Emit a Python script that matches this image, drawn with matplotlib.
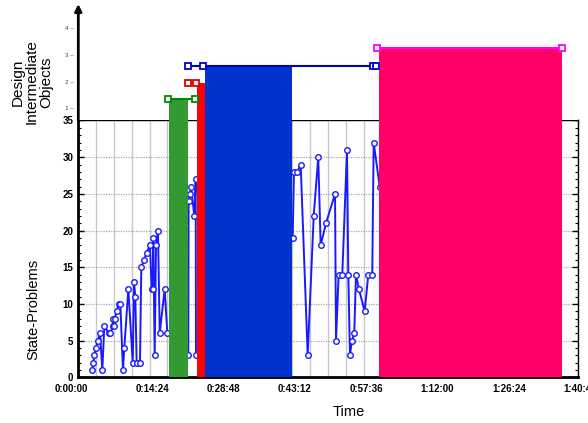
import numpy as np
import matplotlib
matplotlib.use("Agg")
import matplotlib.pyplot as plt
import matplotlib.transforms as mtransforms
from matplotlib.ticker import MultipleLocator

plt.rcParams['font.family'] = ['Liberation Sans', 'DejaVu Sans']

# ── 1. Data ───────────────────────────────────────────────────────────────────
# State-problem count over session time (seconds)
sp_time = [170, 182, 194, 214, 235, 263, 291, 315, 368, 388, 417, 424, 436, 444,
           465, 489, 509, 541, 557, 606, 659, 675, 690, 707, 747, 763, 796, 828,
           868, 889, 901, 908, 925, 941, 965, 986, 1046, 1078,
           1332, 1336, 1353, 1365, 1405, 1422, 1425,
           2596, 2612, 2652, 2693, 2778, 2851, 2906, 2935, 3000, 3109, 3121,
           3153, 3197, 3254, 3270, 3290, 3314, 3342, 3363, 3399, 3468, 3512,
           3560, 3577, 3650]
sp_count = [1, 2, 3, 4, 5, 6, 1, 7, 6, 6, 7, 8, 7, 8,
            9, 10, 10, 1, 4, 12, 2, 13, 11, 2, 2, 15, 16, 17,
            18, 12, 12, 19, 3, 18, 20, 6, 12, 6,
            3, 24, 25, 26, 22, 27, 3,
            19, 28, 28, 29, 3, 22, 30, 18, 21, 25, 5,
            14, 14, 31, 14, 3, 5, 6, 14, 12, 9, 14,
            14, 32, 26]

# Design intermediate objects: activity spans (seconds) and their level
bar_start = [1098, 1441, 1534, 3642]
bar_end = [1325, 1534, 2588, 5854]
bar_level = [1.35, 1.95, 2.6, 3.25]
bar_colors = ['#339933', '#ff0000', '#0033cc', '#ff0066']

# marker lines drawn on top of the spans in the upper panel
dio_times = [[1090, 1413], [1325, 1422], [1325, 1507, 3565, 3600], [3621, 5854]]
dio_colors = ['#008a00', '#dd0000', '#0000cc', '#ff00ff']

time_labels = ['0:00:00', '0:14:24', '0:28:48', '0:43:12', '0:57:36',
               '1:12:00', '1:26:24', '1:40:48']

# ── 2. Figure layout ──────────────────────────────────────────────────────────
W, H = 588, 423
fig = plt.figure(figsize=(W / 100, H / 100), dpi=100)
x0, x1 = 78.3, 577.7
y_mid, y_bot, y_top = 120.5, 377.3, 4.0
ax = fig.add_axes([x0 / W, 1 - y_bot / H, (x1 - x0) / W, (y_bot - y_mid) / H])
ax_top = fig.add_axes([x0 / W, 1 - y_mid / H, (x1 - x0) / W, (y_mid - y_top) / H],
                      sharex=ax)

# ── 3. Lower panel: state-problems ────────────────────────────────────────────
ax.set_xlim(0, 6048)
ax.set_ylim(0, 35)
ax.set_xticks(np.arange(0, 6049, 864))
ax.set_xticklabels(time_labels)
ax.xaxis.set_minor_locator(MultipleLocator(216))
ax.yaxis.set_major_locator(MultipleLocator(5))
ax.yaxis.set_minor_locator(MultipleLocator(1))
ax.grid(which='both', axis='x', color='#c8c8c8', lw=1)
ax.grid(which='major', axis='y', color='#a8a8a8', lw=0.9, ls=(0, (1, 1)))
ax.set_axisbelow(True)

ax.plot(sp_time, sp_count, color='#1a1aff', lw=1.4, marker='o', ms=4,
        mfc='white', mec='#1a1aff', mew=1, zorder=2)

for s, e, c in zip(bar_start, bar_end, bar_colors):
    ax.axvspan(s, e, color=c, lw=0, zorder=3)

for side in ['left', 'bottom']:
    ax.spines[side].set_linewidth(2)
for side in ['top', 'right']:
    ax.spines[side].set_linewidth(1)
ax.tick_params(axis='y', which='both', direction='in', left=True, right=True)
ax.tick_params(axis='y', which='major', length=4, width=1)
ax.tick_params(axis='y', which='minor', length=2, width=0.8)
ax.tick_params(axis='x', which='both', length=0, pad=5)
for lab in ax.get_xticklabels() + ax.get_yticklabels():
    lab.set_fontsize(7)
    lab.set_fontweight('bold')
# the original tool nudges its time labels a little
for i, lab in enumerate(ax.get_xticklabels()):
    dx = -7 if i == 0 else 2.5
    lab.set_transform(lab.get_transform() +
                      mtransforms.ScaledTranslation(dx / 100, 0, fig.dpi_scale_trans))

# ── 4. Upper panel: design intermediate objects ───────────────────────────────
ax_top.set_ylim(0.55, 4.9)
for s, e, lvl, c in zip(bar_start, bar_end, bar_level, bar_colors):
    ax_top.bar(s, lvl - 0.55, width=e - s, bottom=0.55, align='edge',
               color=c, lw=0, zorder=2)
for t, lvl, c in zip(dio_times, bar_level, dio_colors):
    ax_top.plot(t, [lvl] * len(t), color=c, lw=1.5, marker='s', ms=5,
                mfc='white', mec=c, mew=1.3, zorder=3, clip_on=False)

for side in ax_top.spines:
    ax_top.spines[side].set_visible(False)
ax_top.tick_params(axis='x', which='both', bottom=False, labelbottom=False)
ax_top.set_yticks([1, 2, 3, 4])
ax_top.set_yticklabels(['1 \u2013', '2 \u2013', '3 \u2013', '4 \u2013'])
ax_top.tick_params(axis='y', length=0, pad=3, labelsize=4.5, labelcolor='#7a2a2a')
ax_top.annotate('', xy=(0, 1), xytext=(0, 0), xycoords='axes fraction',
                arrowprops=dict(arrowstyle='-|>', color='black', lw=2,
                                mutation_scale=10, shrinkA=0, shrinkB=0),
                annotation_clip=False)

# ── 5. Axis titles ────────────────────────────────────────────────────────────
fig.text(32 / W, 1 - 82 / H, 'Design\nIntermediate\nObjects', rotation=90,
         ha='center', va='center', fontsize=11, linespacing=1.0,
         multialignment='center')
fig.text(33 / W, 1 - 309 / H, 'State-Problems', rotation=90,
         ha='center', va='center', fontsize=10.5)
fig.text(349 / W, 1 - 412 / H, 'Time', ha='center', va='center', fontsize=10.5)

fig.savefig('out.png', dpi=100)
